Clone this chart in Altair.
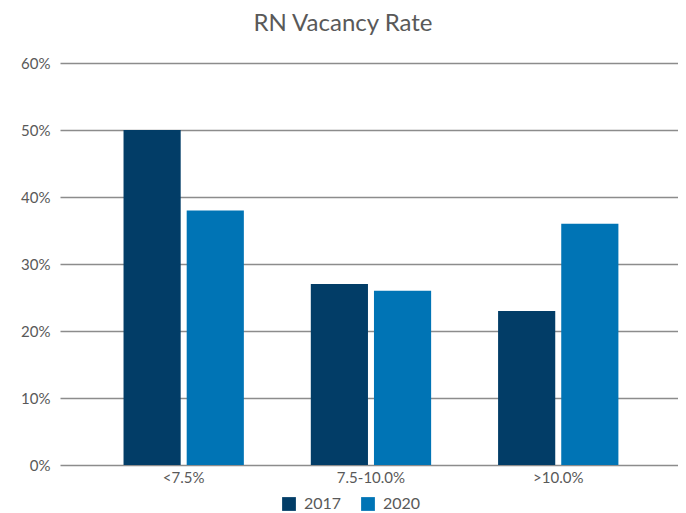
import altair as alt
import pandas as pd

categories = ["<7.5%", "7.5-10.0%", ">10.0%"]
years = ["2017", "2020"]
values_2017 = [0.50, 0.27, 0.23]
values_2020 = [0.38, 0.26, 0.36]

rows = []
for c, v in zip(categories, values_2017):
    rows.append({"cat": c, "year": "2017", "value": v})
for c, v in zip(categories, values_2020):
    rows.append({"cat": c, "year": "2020", "value": v})
df = pd.DataFrame(rows)

FONT = "Lato"
GREY = "#595959"

chart = (
    alt.Chart(df)
    .mark_bar()
    .encode(
        x=alt.X(
            "cat:N",
            sort=categories,
            title=None,
            scale=alt.Scale(paddingInner=0, paddingOuter=0.15, align=0.535),
            axis=alt.Axis(labelAngle=0, ticks=False, domain=False, labelPadding=5,
                          labelFontSize=15, labelColor=GREY, labelFont=FONT),
        ),
        xOffset=alt.XOffset("year:N", sort=years,
                            scale=alt.Scale(paddingInner=0.095, paddingOuter=0.53)),
        y=alt.Y(
            "value:Q",
            title=None,
            scale=alt.Scale(domain=[0, 0.6]),
            axis=alt.Axis(format=".0%", values=[0, 0.1, 0.2, 0.3, 0.4, 0.5, 0.6],
                          ticks=False, domain=False, labelPadding=10,
                          labelFontSize=15, labelColor=GREY, labelFont=FONT,
                          grid=True, gridColor="#8c8c8c", gridWidth=1.3),
        ),
        color=alt.Color(
            "year:N",
            sort=years,
            scale=alt.Scale(domain=years, range=["#023d67", "#0074b5"]),
            legend=alt.Legend(title=None, orient="none", direction="horizontal",
                              legendX=221, legendY=433, symbolType="square",
                              symbolSize=190, symbolStrokeWidth=0, labelFontSize=16,
                              labelColor=GREY, labelFont=FONT, columnPadding=18,
                              labelOffset=7),
        ),
    )
    .properties(
        width=618,
        height=402,
        title=alt.TitleParams("RN Vacancy Rate", fontSize=24, font=FONT, color=GREY,
                              fontWeight="normal", anchor="middle", dx=-26, offset=20),
        autosize=alt.AutoSizeParams(type="none"),
        padding={"left": 52, "top": 55, "right": 0, "bottom": 48},
    )
    .configure_view(stroke=None)
)

chart.save("out.html", embed_options={"renderer": "svg", "actions": False})
